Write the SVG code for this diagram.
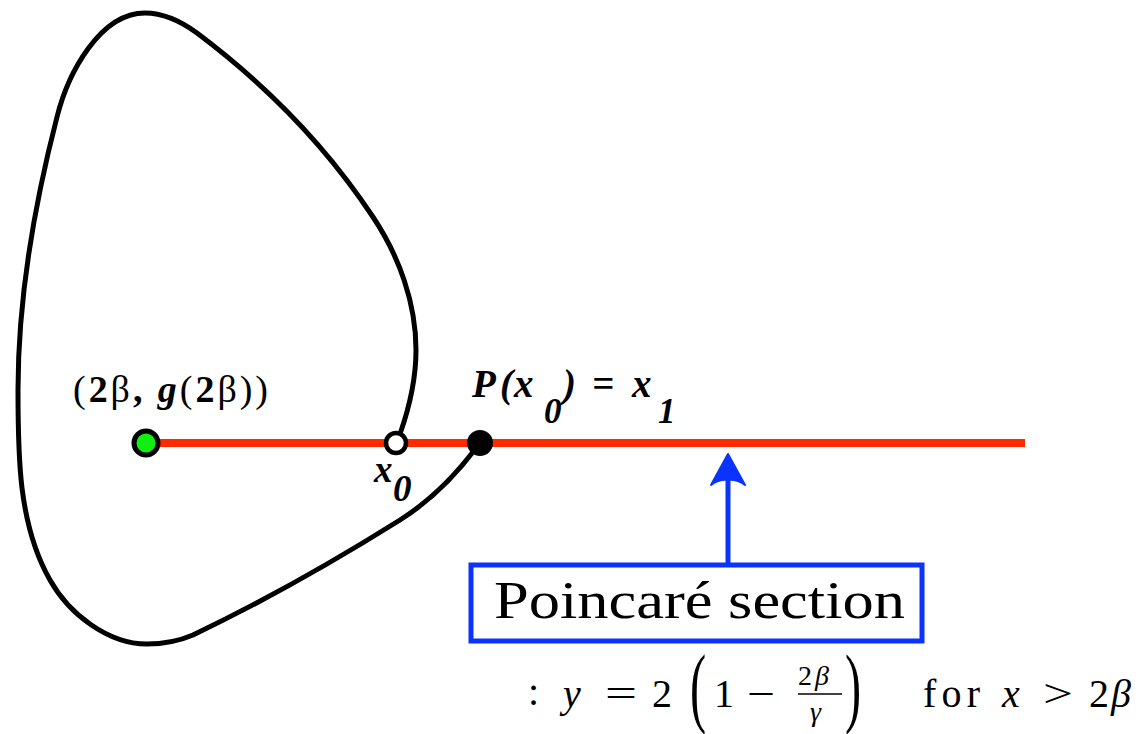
<svg xmlns="http://www.w3.org/2000/svg" width="1147" height="734" viewBox="0 0 1147 734">
<style>
.orbit{fill:none;stroke:#000;stroke-width:5;stroke-linecap:round}
.sec{stroke:#ff2a00;stroke-width:8;fill:none}
.blue{stroke:#0a33ff;stroke-width:5;fill:none}
</style>
<rect width="1147" height="734" fill="#fff"/>
<g id="connectors">
<path id="section-line" class="sec" d="M146,443 H1025"/>
<path id="orbit" class="orbit" d="M400,434 C409.5,407 416,379 416,350 C416,303 399,256 373,217 C326,146 265,84 197,33 C182,22 164,13 145,13 C100,13 68,73 57,117 C34,206 18,298 18,390 C18,454 18,524 50,580 C69,614 108,644 147,644 C163,644 179,641 193,635 C264,601 333,562 400,520 C430,501 455,476 476,448"/>
<g id="arrow">
<line class="blue" x1="728" y1="564" x2="728" y2="478"/>
<path d="M728,454 L745,485 Q737,479 728,480 Q719,479 711,485 Z" fill="#0a33ff" stroke="#0a33ff" stroke-width="2" stroke-linejoin="round"/>
</g>
</g>
<g id="node-fixed-point">
<circle cx="146" cy="443" r="12" fill="#11ee11" stroke="#000" stroke-width="5"/>
<text font-family="Liberation Serif, Times New Roman, serif" font-weight="bold" x="73" y="402" font-size="38" textLength="195" lengthAdjust="spacing"><tspan font-weight="normal">(</tspan>2<tspan font-weight="normal">β</tspan>, <tspan font-style="italic">g</tspan><tspan font-weight="normal">(</tspan>2<tspan font-weight="normal">β))</tspan></text>
</g>
<g id="node-x0">
<circle cx="396" cy="443" r="10" fill="#fff" stroke="#000" stroke-width="4.5"/>
<text font-family="Liberation Serif, Times New Roman, serif" font-weight="bold" font-style="italic" font-size="37" y="482"><tspan x="374">x</tspan><tspan x="393" y="501">0</tspan></text>
</g>
<g id="node-x1">
<circle cx="480" cy="443" r="13" fill="#000"/>
<text font-family="Liberation Serif, Times New Roman, serif" font-weight="bold" font-style="italic" font-size="39" y="397"><tspan x="472">P</tspan><tspan x="500">(</tspan><tspan x="514">x</tspan><tspan x="544" y="423" font-size="35">0</tspan><tspan x="563" y="397">)</tspan><tspan x="592" y="397">=</tspan><tspan x="632" y="397">x</tspan><tspan x="658" y="423" font-size="35">1</tspan></text>
</g>
<g id="node-poincare">
<rect x="471" y="565" width="451" height="76" fill="#fff" stroke="#0a33ff" stroke-width="5"/>
<text font-family="Liberation Serif, Times New Roman, serif" x="494" y="618" font-size="52" textLength="411" lengthAdjust="spacingAndGlyphs">Poincaré section</text>
</g>
<g id="formula" font-family="Liberation Serif, Times New Roman, serif">
<text font-family="Liberation Serif, Times New Roman, serif" font-size="40" x="528" y="705">:</text>
<text font-family="Liberation Serif, Times New Roman, serif" font-size="40" font-style="italic" x="563" y="707">y</text>
<text font-family="Liberation Serif, Times New Roman, serif" font-size="40" x="605" y="707" textLength="32" lengthAdjust="spacingAndGlyphs">=</text>
<text font-family="Liberation Serif, Times New Roman, serif" font-size="40" x="652" y="707">2</text>
<text font-family="Liberation Serif, Times New Roman, serif" transform="translate(690,716) scale(0.55,1)" font-size="88">(</text>
<text font-family="Liberation Serif, Times New Roman, serif" font-size="40" x="714" y="707">1</text>
<text font-family="Liberation Serif, Times New Roman, serif" font-size="40" x="747" y="707" textLength="28" lengthAdjust="spacingAndGlyphs">−</text>
<text font-family="Liberation Serif, Times New Roman, serif" x="798" y="685" font-size="28">2<tspan font-style="italic" dx="3">β</tspan></text>
<line x1="798" y1="694" x2="842" y2="694" stroke="#000" stroke-width="1.6"/>
<text font-family="Liberation Serif, Times New Roman, serif" font-style="italic" x="810" y="721" font-size="28">γ</text>
<text font-family="Liberation Serif, Times New Roman, serif" transform="translate(845,716) scale(0.55,1)" font-size="88">)</text>
<text font-family="Liberation Serif, Times New Roman, serif" font-size="40" x="923" y="707" textLength="57" lengthAdjust="spacing">for</text>
<text font-family="Liberation Serif, Times New Roman, serif" font-size="40" font-style="italic" x="1002" y="707">x</text>
<text font-family="Liberation Serif, Times New Roman, serif" font-size="40" x="1043" y="707" textLength="30" lengthAdjust="spacingAndGlyphs">&gt;</text>
<text font-family="Liberation Serif, Times New Roman, serif" font-size="40" x="1089" y="707">2</text>
<text font-family="Liberation Serif, Times New Roman, serif" font-size="40" font-style="italic" x="1111" y="707">β</text>
</g>
</svg>
